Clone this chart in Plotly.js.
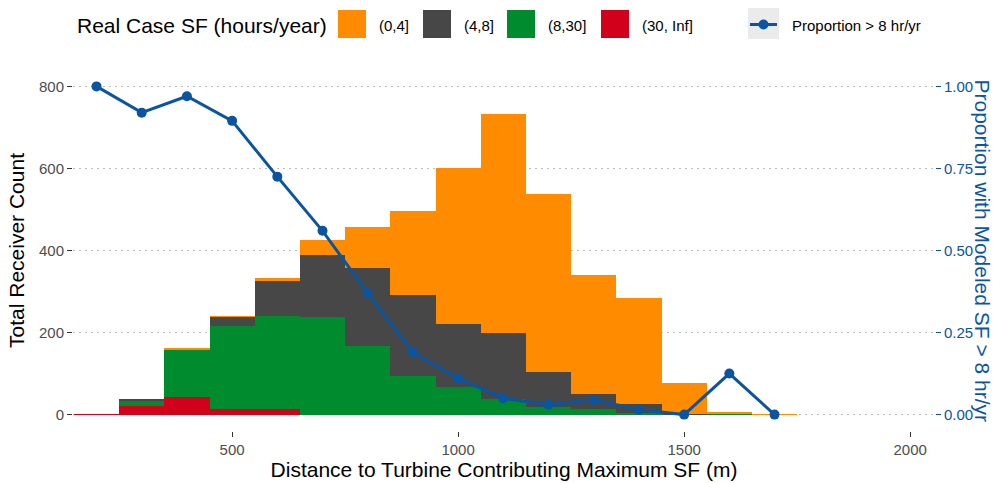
<!DOCTYPE html>
<html>
<head>
<meta charset="utf-8">
<script src="https://cdn.plot.ly/plotly-3.0.1.min.js"></script>
<style>html,body{margin:0;padding:0;background:#fff;}#chart{width:994px;height:483px;}</style>
</head>
<body>
<div id="chart"></div>
<script>
// Bin centres (m), 100 m wide bins
const distance = [200, 300, 400, 500, 600, 700, 800, 900, 1000, 1100, 1200, 1300, 1400, 1500, 1600, 1700];
// Receiver counts per Real Case SF class
const sf_0_4   = [0, 0, 4, 3, 7, 37, 101, 206, 380, 532, 434, 289, 258, 74, 5, 1];
const sf_4_8   = [0, 4, 0, 22, 85, 151, 189, 197, 152, 163, 86, 37, 22, 2, 0, 0];
const sf_8_30  = [0, 13, 114, 203, 228, 238, 168, 94, 68, 37, 18, 14, 5, 0, 1, 0];
const sf_30_inf= [2, 20, 44, 13, 13, 0, 0, 0, 0, 0, 0, 0, 0, 0, 0, 0];
// Proportion with modeled SF > 8 hr/yr
const proportion = [1.00, 0.92, 0.97, 0.895, 0.725, 0.56, 0.37, 0.19, 0.11, 0.05, 0.03, 0.045, 0.015, 0.0, 0.125, 0.0];
// Labels
const classNames = ["(0,4]", "(4,8]", "(8,30]", "(30, Inf]"];
const lineName = "Proportion > 8 hr/yr";
const leftTicks = [0, 200, 400, 600, 800];
const rightTicks = [0, 0.25, 0.5, 0.75, 1.0];
const xTicks = [500, 1000, 1500, 2000];

const W = 994, H = 483;
const M = {l: 73, r: 59, t: 70, b: 52};
const PW = W - M.l - M.r, PH = H - M.t - M.b;
const px = x => (x - M.l) / PW;
const py = y => (H - M.b - y) / PH;

const colors = {o: "#FF8C00", g: "#474747", gr: "#008B2E", r: "#D2001B", line: "#0B54A0"};
const font = "Liberation Sans, Arial, sans-serif";

function bar(y, name, color) {
  return {type: "bar", x: distance, y: y, name: name, marker: {color: color, line: {width: 0}},
          showlegend: false, hoverinfo: "x+y+name"};
}
const data = [
  bar(sf_30_inf, classNames[3], colors.r),
  bar(sf_8_30, classNames[2], colors.gr),
  bar(sf_4_8, classNames[1], colors.g),
  bar(sf_0_4, classNames[0], colors.o),
  {type: "scatter", mode: "lines+markers", x: distance, y: proportion, yaxis: "y2", name: lineName,
   line: {color: colors.line, width: 3}, marker: {color: colors.line, size: 10}, showlegend: false}
];

// manual legend (ggplot style keys)
const shapes = [];
const annotations = [];
annotations.push({xref: "paper", yref: "paper", x: px(75), y: py(25), xanchor: "left", yanchor: "middle",
  text: "Real Case SF (hours/year)", showarrow: false, font: {family: font, size: 21, color: "#000"}});
const keyX = [338, 423, 507, 601];
const keyCol = [colors.o, colors.g, colors.gr, colors.r];
for (let i = 0; i < 4; i++) {
  shapes.push({type: "rect", xref: "paper", yref: "paper", x0: px(keyX[i]), x1: px(keyX[i] + 28),
    y0: py(38), y1: py(10), fillcolor: keyCol[i], line: {width: 0}});
  annotations.push({xref: "paper", yref: "paper", x: px(keyX[i] + 39), y: py(25), xanchor: "left", yanchor: "middle",
    text: classNames[i], showarrow: false, font: {family: font, size: 15, color: "#000"}});
}
shapes.push({type: "rect", xref: "paper", yref: "paper", x0: px(748), x1: px(779), y0: py(39), y1: py(8),
  fillcolor: "#EBEBEB", line: {width: 0}});
shapes.push({type: "line", xref: "paper", yref: "paper", x0: px(750), x1: px(777), y0: py(24.5), y1: py(24.5),
  line: {color: colors.line, width: 3}});
shapes.push({type: "circle", xref: "paper", yref: "paper", x0: px(758.5), x1: px(768.5), y0: py(29.5), y1: py(19.5),
  fillcolor: colors.line, line: {width: 0}});
annotations.push({xref: "paper", yref: "paper", x: px(790), y: py(25), xanchor: "left", yanchor: "middle",
  text: lineName, showarrow: false, font: {family: font, size: 15, color: "#000"}});
// right axis title (reads top to bottom)
annotations.push({xref: "paper", yref: "paper", x: px(982), y: 0.5, xanchor: "center", yanchor: "middle",
  text: "Proportion with Modeled SF > 8 hr/yr", textangle: 90, showarrow: false,
  font: {family: font, size: 21, color: colors.line}});

const layout = {
  width: W, height: H,
  margin: M,
  paper_bgcolor: "#fff", plot_bgcolor: "#fff",
  barmode: "stack", bargap: 0,
  showlegend: false,
  font: {family: font},
  xaxis: {range: [148, 2055], tickvals: xTicks, ticks: "outside", ticklen: 5, tickwidth: 1.2, tickcolor: "#333",
          tickfont: {size: 15, color: "#4D4D4D"}, showgrid: false, zeroline: false, showline: false,
          title: {text: "Distance to Turbine Contributing Maximum SF (m)", font: {size: 21, color: "#000"}, standoff: 5}},
  yaxis: {range: [-40, 840], tickvals: leftTicks, ticks: "outside", ticklen: 5, tickwidth: 1.2, tickcolor: "#333",
          tickfont: {size: 15, color: "#4D4D4D"}, showgrid: true, gridcolor: "#BDBDBD", griddash: "2px,4px", gridwidth: 1.3,
          zeroline: false, showline: false,
          title: {text: "Total Receiver Count", font: {size: 21, color: "#000"}, standoff: 8}},
  yaxis2: {overlaying: "y", side: "right", range: [-0.05, 1.05], tickvals: rightTicks,
           ticktext: rightTicks.map(v => v.toFixed(2)), ticks: "outside", ticklen: 5, tickwidth: 1.2,
           tickcolor: colors.line, tickfont: {size: 15, color: colors.line}, showgrid: false, zeroline: false, showline: false},
  shapes: shapes,
  annotations: annotations
};

Plotly.newPlot("chart", data, layout, {displayModeBar: false, staticPlot: true});
</script>
</body>
</html>
